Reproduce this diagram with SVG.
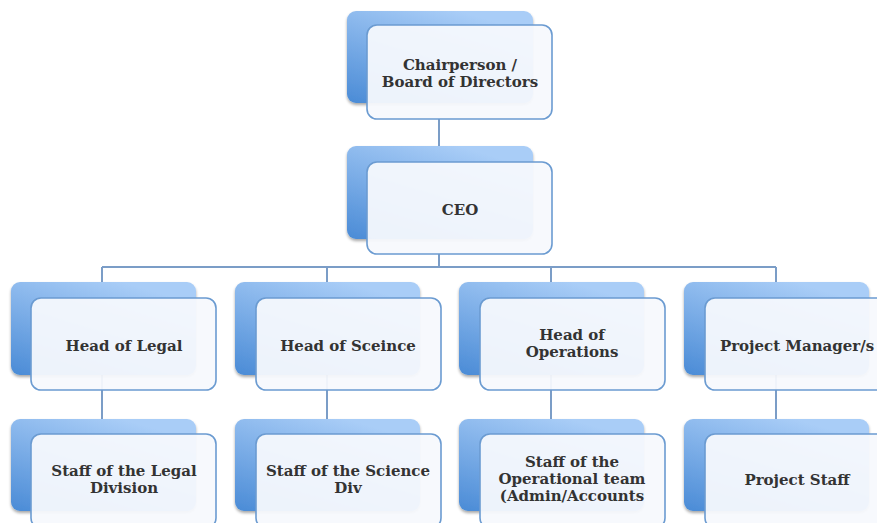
<svg xmlns="http://www.w3.org/2000/svg" width="877" height="523" viewBox="0 0 877 523">
<defs>
<linearGradient id="bg" x1="0" y1="1" x2="0.6" y2="0">
<stop offset="0" stop-color="#4a8bd6"/>
<stop offset="1" stop-color="#a9cdf7"/>
</linearGradient>
<filter id="sh" x="-10%" y="-10%" width="125%" height="125%">
<feGaussianBlur in="SourceAlpha" stdDeviation="1.5"/>
<feOffset dx="0" dy="1.5" result="b"/>
<feComponentTransfer><feFuncA type="linear" slope="0.35"/></feComponentTransfer>
<feMerge><feMergeNode/><feMergeNode in="SourceGraphic"/></feMerge>
</filter>
</defs>
<style>
.back{fill:url(#bg);filter:url(#sh)}
.front{fill:#f7f9fd;fill-opacity:0.94;stroke:#6b9bd1;stroke-width:1.6}
.con{stroke:#7b9dc7;stroke-width:2;fill:none}
text{font-family:"DejaVu Serif","Liberation Serif",serif;font-weight:bold;font-size:15px;fill:#333;text-anchor:middle}
</style>
<g id="connectors">
<line class="con" x1="439" y1="119" x2="439" y2="146"/>
<line class="con" x1="439" y1="254" x2="439" y2="267"/>
<line class="con" x1="102" y1="267" x2="776" y2="267"/>
<line class="con" x1="102" y1="267" x2="102" y2="282"/>
<line class="con" x1="327" y1="267" x2="327" y2="282"/>
<line class="con" x1="551" y1="267" x2="551" y2="282"/>
<line class="con" x1="776" y1="267" x2="776" y2="282"/>
<line class="con" x1="102" y1="375" x2="102" y2="419"/>
<line class="con" x1="327" y1="375" x2="327" y2="419"/>
<line class="con" x1="551" y1="375" x2="551" y2="419"/>
<line class="con" x1="776" y1="375" x2="776" y2="419"/>
</g>
<g id="chair">
<rect class="back" x="347" y="11" width="186" height="92" rx="9"/>
<rect class="front" x="367" y="25" width="185" height="94" rx="10"/>
<text x="460" y="70">Chairperson /</text>
<text x="460" y="87">Board of Directors</text>
</g>
<g id="ceo">
<rect class="back" x="347" y="146" width="186" height="93" rx="9"/>
<rect class="front" x="367" y="162" width="185" height="92" rx="10"/>
<text x="460" y="215">CEO</text>
</g>
<g id="legal">
<rect class="back" x="11" y="282" width="185" height="93" rx="9"/>
<rect class="front" x="31" y="298" width="185" height="92" rx="10"/>
<text x="124" y="351">Head of Legal</text>
</g>
<g id="science">
<rect class="back" x="235" y="282" width="185" height="93" rx="9"/>
<rect class="front" x="256" y="298" width="185" height="92" rx="10"/>
<text x="348" y="351">Head of Sceince</text>
</g>
<g id="operations">
<rect class="back" x="459" y="282" width="185" height="93" rx="9"/>
<rect class="front" x="480" y="298" width="185" height="92" rx="10"/>
<text x="572" y="340">Head of</text>
<text x="572" y="357">Operations</text>
</g>
<g id="pm">
<rect class="back" x="684" y="282" width="185" height="93" rx="9"/>
<rect class="front" x="705" y="298" width="185" height="92" rx="10"/>
<text x="797" y="351">Project Manager/s</text>
</g>
<g id="legalstaff">
<rect class="back" x="11" y="419" width="185" height="92" rx="9"/>
<rect class="front" x="31" y="434" width="185" height="94" rx="10"/>
<text x="124" y="476">Staff of the Legal</text>
<text x="124" y="493">Division</text>
</g>
<g id="sciencestaff">
<rect class="back" x="235" y="419" width="185" height="92" rx="9"/>
<rect class="front" x="256" y="434" width="185" height="94" rx="10"/>
<text x="348" y="476">Staff of the Science</text>
<text x="348" y="493">Div</text>
</g>
<g id="opsstaff">
<rect class="back" x="459" y="419" width="185" height="92" rx="9"/>
<rect class="front" x="480" y="434" width="185" height="94" rx="10"/>
<text x="572" y="467">Staff of the</text>
<text x="572" y="484">Operational team</text>
<text x="572" y="501">(Admin/Accounts</text>
</g>
<g id="projstaff">
<rect class="back" x="684" y="419" width="185" height="92" rx="9"/>
<rect class="front" x="705" y="434" width="185" height="94" rx="10"/>
<text x="797" y="485">Project Staff</text>
</g>
</svg>
